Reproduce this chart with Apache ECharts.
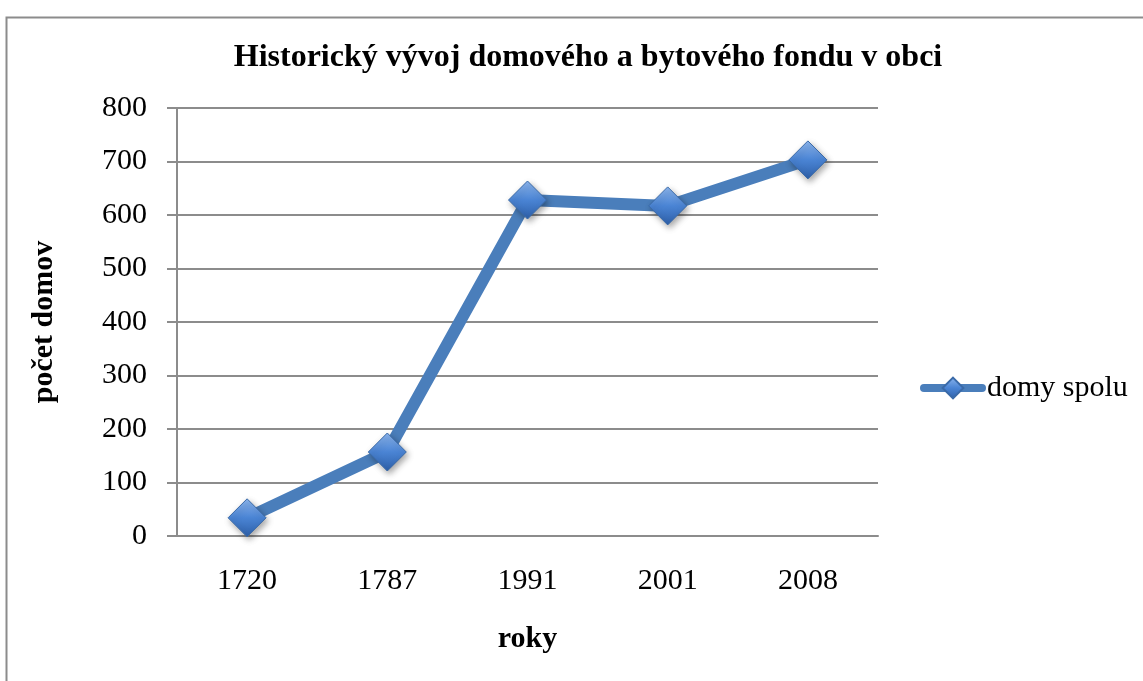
<!DOCTYPE html>
<html><head><meta charset="utf-8">
<script src="https://cdn.jsdelivr.net/npm/echarts@6/dist/echarts.min.js"></script>
<style>html,body{margin:0;padding:0;background:#fff}#c{width:1143px;height:681px}</style>
</head><body><div id="c"></div>
<script>
const titleText = 'Historický vývoj domového a bytového fondu v obci';
const categories = ['1720', '1787', '1991', '2001', '2008'];
const seriesName = 'domy spolu';
const values = [34, 157, 628, 617, 703];
const xAxisName = 'roky';
const yAxisName = 'počet domov';
const yMin = 0, yMax = 800, yStep = 100;

const font = 'Liberation Serif';
const chart = echarts.init(document.getElementById('c'), null, {renderer: 'canvas'});
const diamondFill = new echarts.graphic.LinearGradient(0, 0, 0, 1, [
  {offset: 0, color: '#8db6ee'},
  {offset: 0.5, color: '#4a84d4'},
  {offset: 1, color: '#2d5fa8'}
]);
chart.setOption({
  animation: false,
  backgroundColor: '#ffffff',
  graphic: [{
    type: 'rect', left: 4, top: 15, shape: {width: 1200, height: 700},
    style: {fill: 'none', stroke: '#8c8c8c', lineWidth: 2}, z: -1
  }],
  title: {
    text: titleText, left: 583, top: 37, textAlign: 'center',
    textStyle: {fontFamily: font, fontWeight: 'bold', fontSize: 32, color: '#000'}
  },
  legend: {
    data: [seriesName], left: 915, top: 368, itemWidth: 58, itemHeight: 26, itemGap: 4,
    lineStyle: {width: 8, cap: 'round', color: '#4a7ebb'},
    textStyle: {fontFamily: font, fontSize: 30, color: '#000'}
  },
  grid: {left: 177, right: 265, top: 108, bottom: 145},
  xAxis: {
    type: 'category', data: categories, boundaryGap: true,
    name: xAxisName, nameLocation: 'middle', nameGap: 88,
    nameTextStyle: {fontFamily: font, fontWeight: 'bold', fontSize: 30, color: '#000'},
    axisLine: {lineStyle: {color: '#8c8c8c', width: 2}},
    axisTick: {show: false},
    axisLabel: {fontFamily: font, fontSize: 30, color: '#000', margin: 30}
  },
  yAxis: {
    type: 'value', min: yMin, max: yMax, interval: yStep,
    name: yAxisName, nameLocation: 'middle', nameGap: 118,
    nameTextStyle: {fontFamily: font, fontWeight: 'bold', fontSize: 30, color: '#000'},
    axisLine: {show: true, lineStyle: {color: '#8c8c8c', width: 2}},
    axisTick: {show: true, length: 10, lineStyle: {color: '#8c8c8c', width: 2}},
    splitLine: {lineStyle: {color: '#8c8c8c', width: 2}},
    axisLabel: {fontFamily: font, fontSize: 30, color: '#000', margin: 30}
  },
  series: [{
    name: seriesName, type: 'line', data: values,
    lineStyle: {color: '#4a7ebb', width: 12},
    symbol: 'diamond', symbolSize: 38,
    itemStyle: {color: diamondFill, borderColor: '#3a6aa8', borderWidth: 1,
      shadowColor: 'rgba(0,0,0,0.35)', shadowBlur: 6, shadowOffsetX: 2, shadowOffsetY: 3},
    color: '#4a7ebb'
  }]
});
</script></body></html>
